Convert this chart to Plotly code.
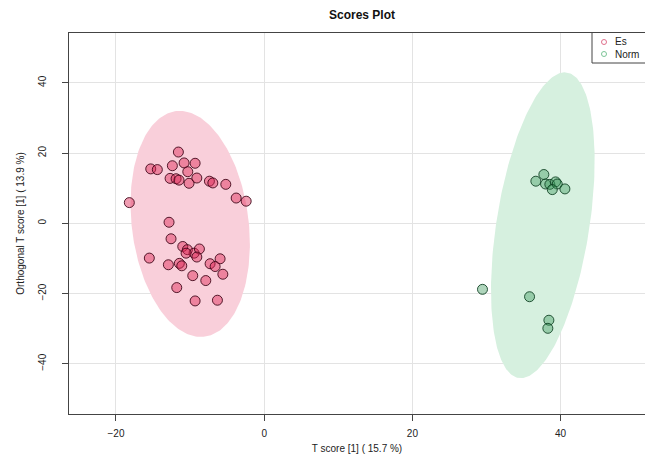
import numpy as np
import plotly.graph_objects as go

# ---- data ----
es_t = [-11.58, -15.31, -14.42, -12.39, -10.81, -9.32, -10.31, -12.70, -11.89, -11.49,
        -10.14, -9.09, -7.39, -6.93, -5.18, -3.78, -2.43, -18.20, -12.84, -12.57,
        -10.99, -10.36, -9.46, -8.74, -10.54, -9.09, -15.50, -12.93, -11.45, -11.12,
        -5.95, -7.30, -6.62, -5.58, -9.64, -7.88, -11.80, -9.32, -6.31]
es_o = [20.3, 15.5, 15.3, 16.4, 17.2, 17.1, 14.7, 12.8, 12.7, 12.3,
        11.4, 12.9, 12.0, 11.5, 11.1, 7.2, 6.3, 5.9, 0.3, -4.4,
        -6.6, -7.5, -8.5, -7.3, -8.5, -9.6, -9.9, -11.8, -11.4, -12.1,
        -10.1, -11.5, -12.3, -14.5, -14.9, -16.3, -18.3, -22.1, -21.9]
norm_t = [37.74, 36.66, 37.97, 38.55, 39.32, 39.55, 38.88, 40.58, 29.46, 35.81, 38.42, 38.28]
norm_o = [13.9, 12.0, 11.2, 11.1, 11.8, 11.2, 9.6, 9.8, -18.8, -20.9, -27.6, -29.9]

groups = ["Es", "Norm"]          # legend labels as visible in the reference
x_ticks = [-20, 0, 20, 40]
y_ticks = [-40, -20, 0, 20, 40]

CHI2_95_2DF = 5.991


def conf_ellipse(x, y, n=240):
    x = np.asarray(x, float)
    y = np.asarray(y, float)
    cov = np.cov(x, y)
    vals, vecs = np.linalg.eigh(cov)
    t = np.linspace(0, 2 * np.pi, n)
    circ = np.vstack([np.cos(t), np.sin(t)])
    pts = vecs @ (np.sqrt(vals * CHI2_95_2DF)[:, None] * circ)
    return x.mean() + pts[0], y.mean() + pts[1]


fig = go.Figure()

styles = {
    "Es": dict(fill="rgb(249,207,218)", mfill="rgba(222,38,84,0.45)",
               mline="rgba(55,0,18,0.85)", leg="#e0708c"),
    "Norm": dict(fill="rgb(214,240,223)", mfill="rgba(55,150,88,0.40)",
                 mline="rgba(10,60,30,0.85)", leg="#7cc496"),
}

series = {"Es": (es_t, es_o), "Norm": (norm_t, norm_o)}

for g in groups:
    ex, ey = conf_ellipse(*series[g])
    fig.add_trace(go.Scatter(x=ex, y=ey, mode="lines", fill="toself",
                             fillcolor=styles[g]["fill"], line=dict(width=0),
                             hoverinfo="skip", showlegend=False))

for g in groups:
    xs, ys = series[g]
    fig.add_trace(go.Scatter(x=xs, y=ys, mode="markers", showlegend=False, name=g,
                             marker=dict(size=10, color=styles[g]["mfill"],
                                         line=dict(color=styles[g]["mline"], width=1))))

W, H = 645, 459
ml, mr, mt, mb = 69, 0, 33, 45
PW, PH = W - ml - mr, H - mt - mb


def px_x(p):
    return (p - ml) / PW


def px_y(p):
    return 1 - (p - mt) / PH


FONT = "Liberation Sans, Arial, sans-serif"

axis_common = dict(
    showgrid=True, gridcolor="#e3e3e3", gridwidth=1, zeroline=False,
    showline=True, linecolor="#444444", linewidth=1,
    ticks="outside", ticklen=6, tickcolor="#444444", automargin=False,
    tickfont=dict(family=FONT, size=10, color="#222222"),
)

# legend box (drawn as layout elements so the compact R-style spacing is kept)
shapes = [
    dict(type="line", xref="paper", yref="paper", x0=px_x(592), x1=px_x(592),
         y0=px_y(33), y1=px_y(63), line=dict(color="#444444", width=1)),
    dict(type="line", xref="paper", yref="paper", x0=px_x(592), x1=1.05,
         y0=px_y(63), y1=px_y(63), line=dict(color="#444444", width=1)),
]
annotations = []
for i, g in enumerate(groups):
    cy = 42 + 12 * i
    shapes.append(dict(type="circle", xref="paper", yref="paper",
                       x0=px_x(601.5), x1=px_x(606.5), y0=px_y(cy + 2.5), y1=px_y(cy - 2.5),
                       line=dict(color=styles[g]["leg"], width=1), fillcolor="rgba(0,0,0,0)"))
    annotations.append(dict(text=g, xref="paper", yref="paper", x=px_x(614), y=px_y(cy),
                            xanchor="left", yanchor="middle", showarrow=False, borderpad=0,
                            font=dict(family=FONT, size=10, color="#222222")))

fig.update_layout(
    width=W, height=H,
    margin=dict(l=ml, r=mr, t=mt, b=mb, autoexpand=False),
    paper_bgcolor="white", plot_bgcolor="white",
    font=dict(family=FONT, size=10, color="#222222"),
    title=dict(text="<b>Scores Plot</b>", x=(362 - ml) / PW, xref="paper",
               xanchor="center", y=1 - 15 / H, yanchor="middle",
               font=dict(size=12, color="#111111")),
    xaxis=dict(range=[-26.34, 51.39], tickvals=x_ticks, mirror=True,
               ticklabelstandoff=4,
               title=dict(text="T score [1] ( 15.7 %)", standoff=6, font=dict(size=10)),
               **axis_common),
    yaxis=dict(range=[-54.3, 54.2], tickvals=y_ticks, tickangle=-90, mirror=False,
               ticklabelstandoff=12,
               title=dict(text="Orthogonal T score [1] ( 13.9 %)", standoff=10,
                          font=dict(size=10)),
               **axis_common),
    shapes=shapes,
    annotations=annotations,
    showlegend=False,
)

fig.write_html("out.html", config={"displayModeBar": False},
               post_script="document.body.style.margin='0';")
